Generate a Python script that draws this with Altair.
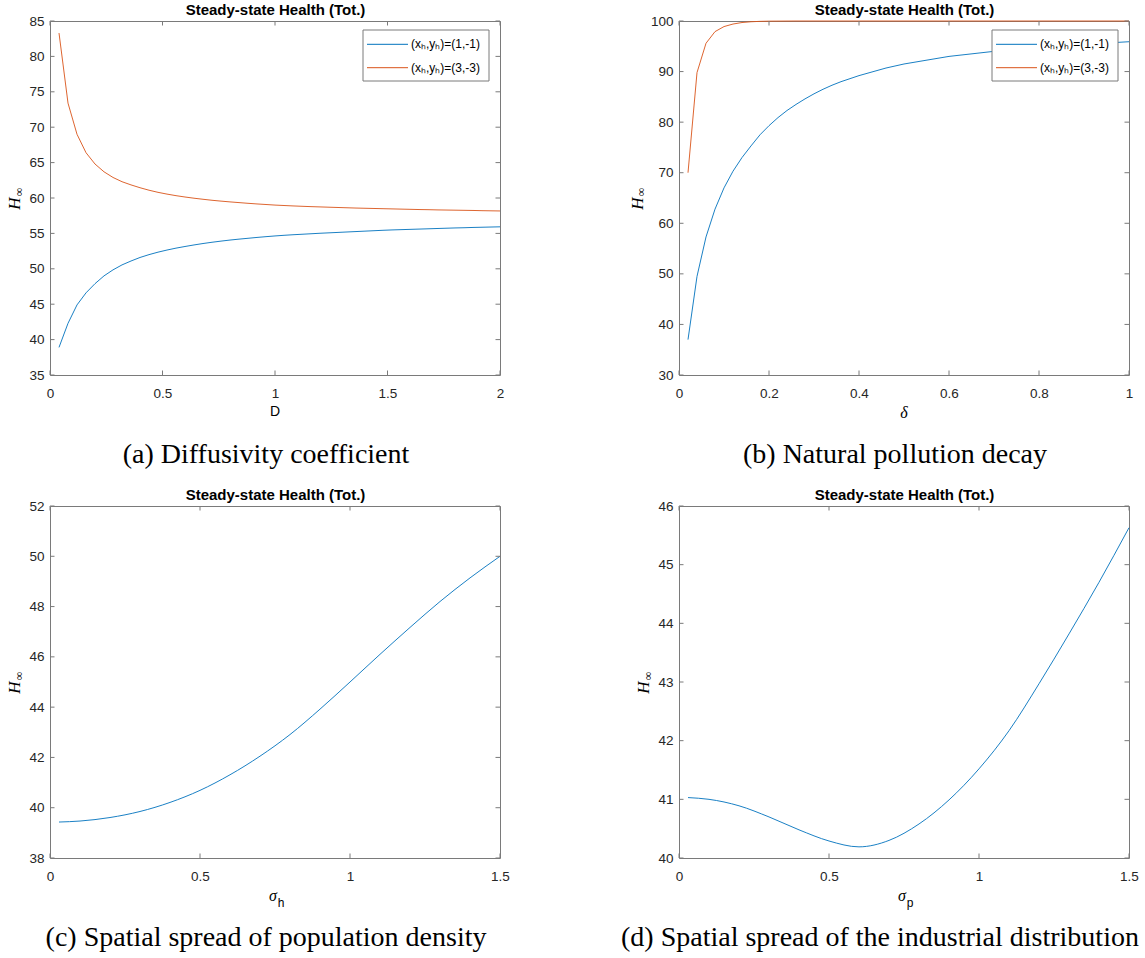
import altair as alt
import pandas as pd

# ---------------- data ----------------
series_names = ["(xₕ,yₕ)=(1,-1)", "(xₕ,yₕ)=(3,-3)"]
series_colors = ["#0072BD", "#D95319"]

# (a) diffusivity coefficient D
D_vals = [0.04, 0.08, 0.12, 0.16, 0.20, 0.24, 0.28, 0.32, 0.36, 0.40,
          0.44, 0.48, 0.52, 0.56, 0.60, 0.64, 0.68, 0.72, 0.76, 0.80,
          0.84, 0.88, 0.92, 0.96, 1.00, 1.04, 1.08, 1.12, 1.16, 1.20,
          1.24, 1.28, 1.32, 1.36, 1.40, 1.44, 1.48, 1.52, 1.56, 1.60,
          1.64, 1.68, 1.72, 1.76, 1.80, 1.84, 1.88, 1.92, 1.96, 2.00]
Ha_11 = [38.9, 42.3, 44.9, 46.6, 47.9, 49.0, 49.85, 50.55, 51.1, 51.6,
         52.0, 52.35, 52.65, 52.92, 53.15, 53.37, 53.57, 53.75, 53.91, 54.06,
         54.19, 54.31, 54.43, 54.54, 54.64, 54.73, 54.81, 54.88, 54.95, 55.02,
         55.08, 55.14, 55.2, 55.26, 55.32, 55.38, 55.44, 55.49, 55.53, 55.57,
         55.61, 55.65, 55.69, 55.73, 55.77, 55.8, 55.84, 55.87, 55.9, 55.93]
Ha_33 = [83.3, 73.4, 69.0, 66.4, 64.8, 63.7, 62.9, 62.3, 61.85, 61.45,
         61.1, 60.8, 60.55, 60.33, 60.14, 59.97, 59.82, 59.68, 59.56, 59.45,
         59.35, 59.25, 59.16, 59.08, 59.0, 58.94, 58.88, 58.83, 58.78, 58.74,
         58.7, 58.66, 58.62, 58.58, 58.55, 58.52, 58.49, 58.46, 58.43, 58.4,
         58.37, 58.35, 58.32, 58.3, 58.28, 58.26, 58.24, 58.21, 58.19, 58.17]

# (b) natural pollution decay delta
delta_vals = [0.02, 0.04, 0.06, 0.08, 0.10, 0.12, 0.14, 0.16, 0.18, 0.20,
              0.22, 0.24, 0.26, 0.28, 0.30, 0.32, 0.34, 0.36, 0.38, 0.40,
              0.42, 0.44, 0.46, 0.48, 0.50, 0.52, 0.54, 0.56, 0.58, 0.60,
              0.62, 0.64, 0.66, 0.68, 0.70, 0.72, 0.74, 0.76, 0.78, 0.80,
              0.82, 0.84, 0.86, 0.88, 0.90, 0.92, 0.94, 0.96, 0.98, 1.00]
Hb_11 = [37.0, 49.5, 57.3, 62.8, 67.0, 70.3, 73.0, 75.3, 77.5, 79.3,
         80.9, 82.3, 83.5, 84.6, 85.6, 86.5, 87.3, 88.0, 88.6, 89.2,
         89.7, 90.2, 90.7, 91.1, 91.5, 91.8, 92.1, 92.4, 92.7, 93.0,
         93.2, 93.4, 93.6, 93.8, 94.0, 94.2, 94.35, 94.5, 94.65, 94.8,
         94.92, 95.04, 95.16, 95.28, 95.4, 95.5, 95.6, 95.7, 95.8, 95.9]
Hb_33 = [70.0, 89.8, 95.6, 97.9, 98.9, 99.4, 99.7, 99.85, 99.93, 99.97,
         99.98, 99.99, 100.0, 100.0, 100.0, 100.0, 100.0, 100.0, 100.0, 100.0,
         100.0, 100.0, 100.0, 100.0, 100.0, 100.0, 100.0, 100.0, 100.0, 100.0,
         100.0, 100.0, 100.0, 100.0, 100.0, 100.0, 100.0, 100.0, 100.0, 100.0,
         100.0, 100.0, 100.0, 100.0, 100.0, 100.0, 100.0, 100.0, 100.0, 100.0]

# (c) spatial spread of population density sigma_h
sigma_h_vals = [0.03, 0.1, 0.2, 0.3, 0.4, 0.5, 0.6, 0.7, 0.8, 0.9,
                1.0, 1.1, 1.2, 1.3, 1.4, 1.5]
Hc = [39.43, 39.47, 39.61, 39.85, 40.21, 40.69, 41.31, 42.05, 42.91, 43.92,
      45.0, 46.1, 47.17, 48.2, 49.14, 50.0]

# (d) spatial spread of the industrial distribution sigma_p
sigma_p_vals = [0.03, 0.1, 0.2, 0.3, 0.4, 0.5, 0.6, 0.7, 0.8, 0.9,
                1.0, 1.1, 1.2, 1.3, 1.4, 1.5]
Hd = [41.03, 41.0, 40.89, 40.7, 40.48, 40.29, 40.19, 40.3, 40.58, 40.99,
      41.52, 42.17, 42.97, 43.82, 44.7, 45.63]

xticks_a = [0, 0.5, 1, 1.5, 2]
yticks_a = [35, 40, 45, 50, 55, 60, 65, 70, 75, 80, 85]
xticks_b = [0, 0.2, 0.4, 0.6, 0.8, 1]
yticks_b = [30, 40, 50, 60, 70, 80, 90, 100]
xticks_c = [0, 0.5, 1, 1.5]
yticks_c = [38, 40, 42, 44, 46, 48, 50, 52]
xticks_d = [0, 0.5, 1, 1.5]
yticks_d = [40, 41, 42, 43, 44, 45, 46]

panel_title = "Steady-state Health (Tot.)"
captions = ["(a) Diffusivity coefficient", "(b) Natural pollution decay",
            "(c) Spatial spread of population density",
            "(d) Spatial spread of the industrial distribution"]

# ---------------- styling ----------------
SANS = "Liberation Sans"
SERIF = "Liberation Serif"
AX = "#262626"
BOX = "#7a7a7a"
TL = 4.5
W = 450
CAP_SIZE = 28


def two_series(xs, y1, y2):
    return pd.DataFrame({
        "x": list(xs) + list(xs),
        "y": list(y1) + list(y2),
        "s": [series_names[0]] * len(xs) + [series_names[1]] * len(xs),
    })


def one_series(xs, y1):
    return pd.DataFrame({"x": list(xs), "y": list(y1), "s": [series_names[0]] * len(xs)})


def txt(text, x, y, size, font, style="normal", weight="normal", align="center",
        baseline="middle", angle=None, color="#000000", limit=None):
    kw = dict(text=text, font=font, fontSize=size, fontStyle=style, fontWeight=weight,
              align=align, baseline=baseline, color=color)
    if angle is not None:
        kw["angle"] = angle
    if limit is not None:
        kw["limit"] = limit
        kw["ellipsis"] = "\u200b"
    return alt.Chart(alt.Data(values=[{"k": 1}])).mark_text(**kw).encode(
        x=alt.value(x), y=alt.value(y))


def panel(df, xdom, ydom, xticks, yticks, H, xtitle, ylab_dx, caption,
          legend=False, smooth=False, cap_left=None):
    xs = alt.Scale(domain=xdom, nice=False, zero=False)
    ys = alt.Scale(domain=ydom, nice=False, zero=False)
    xaxis = alt.Axis(values=xticks, format="~g", ticks=False, domain=False, grid=False,
                     labelFlush=False, labelOverlap=False, labelPadding=11,
                     labelFont=SANS, labelFontSize=13.5, labelColor=AX, title=None)
    yaxis = alt.Axis(values=yticks, format="d", ticks=False, domain=False, grid=False,
                     labelFlush=False, labelOverlap=False, labelPadding=6,
                     labelFont=SANS, labelFontSize=13.5, labelColor=AX, title=None)
    line_kw = dict(strokeWidth=0.9)
    if smooth:
        line_kw["interpolate"] = "monotone"
    lines = alt.Chart(df).mark_line(**line_kw).encode(
        x=alt.X("x:Q", scale=xs, axis=xaxis),
        y=alt.Y("y:Q", scale=ys, axis=yaxis),
        color=alt.Color("s:N", scale=alt.Scale(domain=series_names, range=series_colors),
                        legend=None),
    )
    yt = pd.DataFrame({"y": yticks})
    xt = pd.DataFrame({"x": xticks})
    rule_kw = dict(color=BOX, strokeWidth=1)
    tl = alt.Chart(yt).mark_rule(**rule_kw).encode(
        y=alt.Y("y:Q", scale=ys, axis=yaxis), x=alt.value(0), x2=alt.value(TL))
    tr = alt.Chart(yt).mark_rule(**rule_kw).encode(
        y=alt.Y("y:Q", scale=ys, axis=yaxis), x=alt.value(W - TL), x2=alt.value(W))
    tb = alt.Chart(xt).mark_rule(**rule_kw).encode(
        x=alt.X("x:Q", scale=xs, axis=xaxis), y=alt.value(H - TL), y2=alt.value(H))
    tt = alt.Chart(xt).mark_rule(**rule_kw).encode(
        x=alt.X("x:Q", scale=xs, axis=xaxis), y=alt.value(0), y2=alt.value(TL))

    layers = [lines, tl, tr, tb, tt]
    # title
    layers.append(txt(panel_title, W / 2 + 0.5, -6, 15, SANS, weight="bold",
                      baseline="alphabetic"))
    # y label H_inf
    layers.append(txt("H", ylab_dx, H / 2 + 5.5, 17, SERIF, style="italic", angle=270))
    layers.append(txt("∞", ylab_dx + 3.5, H / 2 - 6, 12, SERIF, angle=270))
    # x label
    kind, sub = xtitle
    if kind == "D":
        layers.append(txt("D", W / 2, H + 37, 14, SANS))
    elif kind == "delta":
        layers.append(txt("δ", W / 2, H + 38, 16, SERIF, style="italic"))
    else:
        layers.append(txt("σ", W / 2 - 2, H + 38, 16, SERIF, style="italic"))
        layers.append(txt(sub, W / 2 + 6, H + 45, 12, SANS))
    # legend
    if legend:
        box = alt.Chart(alt.Data(values=[{"k": 1}])).mark_rect(
            fill="white", stroke=BOX, strokeWidth=1).encode(
            x=alt.value(313), x2=alt.value(439), y=alt.value(9), y2=alt.value(60))
        layers.append(box)
        for i, (nm, col) in enumerate(zip(series_names, series_colors)):
            yy = 23.3 + 23.4 * i
            layers.append(alt.Chart(alt.Data(values=[{"k": 1}])).mark_rule(
                color=col, strokeWidth=1).encode(
                x=alt.value(317), x2=alt.value(358), y=alt.value(yy)))
            layers.append(txt(nm, 361, yy, 12, SANS, align="left", color="#000000"))
    # caption
    if cap_left is None:
        layers.append(txt(caption, 216, H + 88, CAP_SIZE, SERIF, baseline="alphabetic"))
    else:
        layers.append(txt(caption, cap_left, H + 88, CAP_SIZE, SERIF, align="left",
                          baseline="alphabetic", limit=1145 - 678 - cap_left))
    return alt.layer(*layers).properties(width=W, height=H)


pa = panel(two_series(D_vals, Ha_11, Ha_33), [0, 2], [35, 85], xticks_a, yticks_a, 354,
           ("D", None), -35, captions[0], legend=True)
pb = panel(two_series(delta_vals, Hb_11, Hb_33), [0, 1], [30, 100], xticks_b, yticks_b, 354,
           ("delta", None), -41.5, captions[1], legend=True)
pc = panel(one_series(sigma_h_vals, Hc), [0, 1.5], [38, 52], xticks_c, yticks_c, 352,
           ("sigma", "h"), -35, captions[2], smooth=True)
pd_ = panel(one_series(sigma_p_vals, Hd), [0, 1.5], [40, 46], xticks_d, yticks_d, 352,
            ("sigma", "p"), -35, captions[3], smooth=True, cap_left=-58)

chart = alt.concat(pa, pb, pc, pd_, columns=2, spacing={"row": 131, "column": 179},
                   bounds="flush").properties(
    padding={"left": 5, "top": 2, "right": 0, "bottom": 0},
    background="white",
).configure_view(stroke=BOX, strokeWidth=1)

chart.save("out.html", embed_options={"renderer": "svg", "actions": False})
